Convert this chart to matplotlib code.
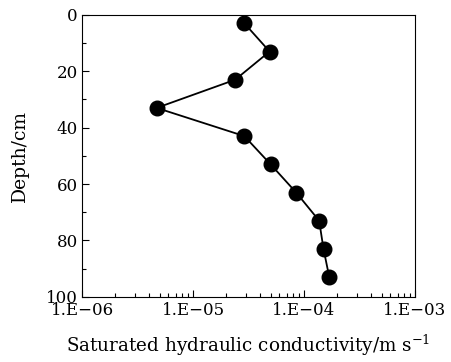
import matplotlib
matplotlib.use('Agg')
from matplotlib import pyplot as plt
from matplotlib.ticker import FixedLocator, LogLocator, NullFormatter, MultipleLocator

# data
depth = [3, 13, 23, 33, 43, 53, 63, 73, 83, 93]
ksat = [2.9e-5, 4.9e-5, 2.4e-5, 4.7e-6, 2.9e-5, 5.0e-5, 8.5e-5, 1.37e-4, 1.5e-4, 1.69e-4]
xticks = [1e-6, 1e-5, 1e-4, 1e-3]
xtick_labels = ['1.E\u221206', '1.E\u221205', '1.E\u221204', '1.E\u221203']

plt.rcParams['font.family'] = ['DejaVu Serif']
plt.rcParams['mathtext.fontset'] = 'dejavuserif'

fig = plt.figure(figsize=(4.51, 3.62), dpi=100)
ax = fig.add_axes([0.182, 0.180, 0.738, 0.779])

ax.plot(ksat, depth, color='black', linewidth=1.3, marker='o', markersize=10.5,
        markerfacecolor='black', markeredgecolor='black')

ax.set_xscale('log')
ax.set_xlim(1e-6, 1e-3)
ax.set_ylim(100, 0)
ax.xaxis.set_major_locator(FixedLocator(xticks))
ax.set_xticklabels(xtick_labels)
ax.xaxis.set_minor_locator(LogLocator(base=10, subs=range(2, 10)))
ax.xaxis.set_minor_formatter(NullFormatter())
ax.yaxis.set_major_locator(MultipleLocator(20))
ax.yaxis.set_minor_locator(MultipleLocator(10))

ax.tick_params(which='both', direction='in', top=False, right=False, labelsize=12)
ax.tick_params(which='major', length=5, width=0.8)
ax.tick_params(which='minor', length=3, width=0.8)
ax.tick_params(axis='x', pad=4)
ax.tick_params(axis='y', pad=3)

ax.set_xlabel('Saturated hydraulic conductivity/m s$^{-1}$', fontsize=13.2, labelpad=10)
ax.set_ylabel('Depth/cm', fontsize=13.5, labelpad=12)

fig.savefig('out.png', dpi=100)
